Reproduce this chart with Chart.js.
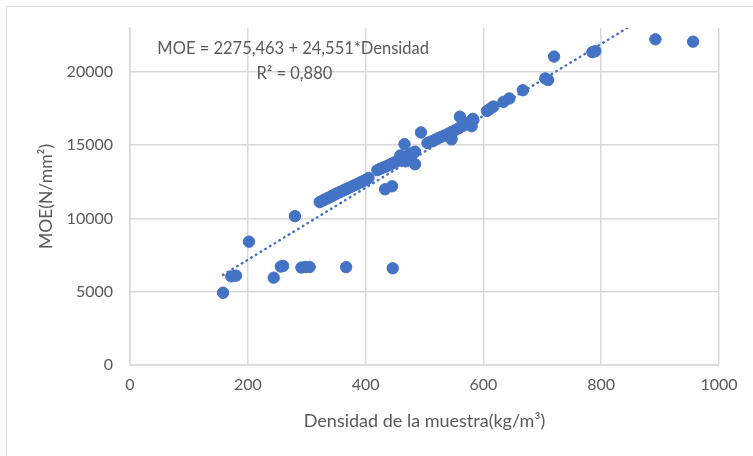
<!DOCTYPE html>
<html>
<head>
<meta charset="utf-8">
<script src="https://cdn.jsdelivr.net/npm/chart.js@4.4.1/dist/chart.umd.min.js"></script>
<style>
    body { margin: 0; background: #fff; }
    #wrap { position: relative; width: 753px; height: 456px; overflow: hidden; }
    #frame { position: absolute; left: 6px; top: 6px; width: 800px; height: 500px; border: 1.5px solid #d9d9d9; }
    #chart { position: absolute; left: 0; top: 0; }
</style>
</head>
<body>
<div id="wrap">
    <div id="frame"></div>
    <canvas id="chart" width="753" height="456"></canvas>
</div>
<script>
// Densidad (kg/m3) y MOE (N/mm2)
var densidad = [
    158, 172, 180, 202, 244, 256, 260, 291, 298, 305, 367, 446, 280,
    322, 327, 331, 335, 339, 343, 347, 351, 355, 359, 363, 367, 371, 376, 381, 386, 391, 396, 401, 405,
    433, 445,
    420, 425, 430, 435, 440, 445, 450, 455, 460, 465, 470, 475, 480, 484, 468, 476, 484, 466, 459,
    494, 505, 511, 517, 523, 529, 535, 541, 547, 553, 559, 565, 571, 577, 583, 546, 580, 560, 582,
    606, 612, 617, 634, 644, 667, 705, 710, 720, 785, 790, 892, 956
];
var moe = [
    4930, 6050, 6100, 8420, 5960, 6720, 6760, 6650, 6690, 6690, 6680, 6600, 10160,
    11120, 11220, 11300, 11380, 11450, 11540, 11620, 11700, 11780, 11850, 11930, 12000, 12080, 12170, 12270, 12360, 12460, 12550, 12650, 12760,
    11990, 12200,
    13300, 13400, 13480, 13560, 13650, 13750, 13840, 13950, 14050, 14150, 14250, 14350, 14480, 14560, 13900, 14100, 13700, 15070, 14300,
    15870, 15150, 15250, 15350, 15470, 15580, 15680, 15800, 15920, 16050, 16180, 16320, 16450, 16600, 16720, 15400, 16300, 16950, 16800,
    17340, 17500, 17640, 17960, 18190, 18750, 19560, 19450, 21050, 21350, 21420, 22230, 22070
];
var xTicks = [0, 200, 400, 600, 800, 1000];
var yTicks = [0, 5000, 10000, 15000, 20000];

// Regresion lineal mostrada en el grafico
var intercepto = 2275.463;
var pendiente = 24.551;

var puntos = densidad.map(function (d, i) {
    return {x: d, y: moe[i]};
});
var xMin = Math.min.apply(null, densidad);
var xMax = Math.max.apply(null, densidad);
var tendencia = [
    {x: xMin, y: intercepto + pendiente * xMin},
    {x: xMax, y: intercepto + pendiente * xMax}
];

var gris = '#595959';
var azul = '#4472C4';
var fuente = 'Lato, "Open Sans", sans-serif';

// Etiqueta de la ecuacion
var etiqueta = {
    id: 'etiqueta',
    afterDatasetsDraw: function (chart) {
        var ctx = chart.ctx;
        var sx = chart.scales.x, sy = chart.scales.y;
        ctx.save();
        ctx.font = '16.5px ' + fuente;
        ctx.fillStyle = gris;
        ctx.textAlign = 'center';
        ctx.textBaseline = 'middle';
        ctx.fillText('MOE = 2275,463 + 24,551*Densidad', sx.getPixelForValue(277), sy.getPixelForValue(21570));
        ctx.fillText('R² = 0,880', sx.getPixelForValue(279), sy.getPixelForValue(19860));
        ctx.restore();
    }
};

var sinSeparador = function (v) { return String(v); };

var ctx = document.getElementById('chart').getContext('2d');
var grafico = new Chart(ctx, {
    type: 'scatter',
    data: {
        datasets: [{
            label: 'MOE',
            data: puntos,
            backgroundColor: azul,
            borderColor: azul,
            pointRadius: 5.7,
            pointHoverRadius: 5.7,
            order: 1
        },
            {
                label: 'Tendencia',
                type: 'line',
                data: tendencia,
                borderColor: azul,
                borderWidth: 2.5,
                borderDash: [0.5, 5],
                borderCapStyle: 'round',
                pointRadius: 0,
                fill: false,
                order: 2
            }
        ]
    },
    options: {
        responsive: false,
        animation: false,
        layout: {padding: {top: 28, right: 34, bottom: 0, left: 0}},
        plugins: {
            legend: {display: false},
            tooltip: {enabled: false}
        },
        scales: {
            x: {
                type: 'linear',
                min: 0,
                max: 1000,
                afterBuildTicks: function (s) {
                    s.ticks = xTicks.map(function (v) { return {value: v}; });
                },
                afterFit: function (s) { s.height = 91; },
                grid: {color: '#d9d9d9', lineWidth: 1.5, drawTicks: false},
                border: {color: '#d9d9d9', width: 1.5},
                ticks: {color: gris, font: {family: fuente, size: 16}, padding: 10, maxRotation: 0, callback: sinSeparador},
                title: {
                    display: true,
                    text: 'Densidad de la muestra(kg/m³)',
                    color: gris,
                    font: {family: fuente, size: 18},
                    padding: {top: 4, bottom: 24}
                }
            },
            y: {
                type: 'linear',
                min: 0,
                max: 23000,
                afterBuildTicks: function (s) {
                    s.ticks = yTicks.map(function (v) { return {value: v}; });
                },
                afterFit: function (s) { s.width = 130; },
                grid: {color: '#d9d9d9', lineWidth: 1.5, drawTicks: false},
                border: {color: '#d9d9d9', width: 1.5},
                ticks: {color: gris, font: {family: fuente, size: 16}, padding: 17, callback: sinSeparador},
                title: {
                    display: true,
                    text: 'MOE(N/mm²)',
                    color: gris,
                    font: {family: fuente, size: 17.5},
                    padding: {top: 36, bottom: 0}
                }
            }
        }
    },
    plugins: [etiqueta]
});
</script>
</body>
</html>
